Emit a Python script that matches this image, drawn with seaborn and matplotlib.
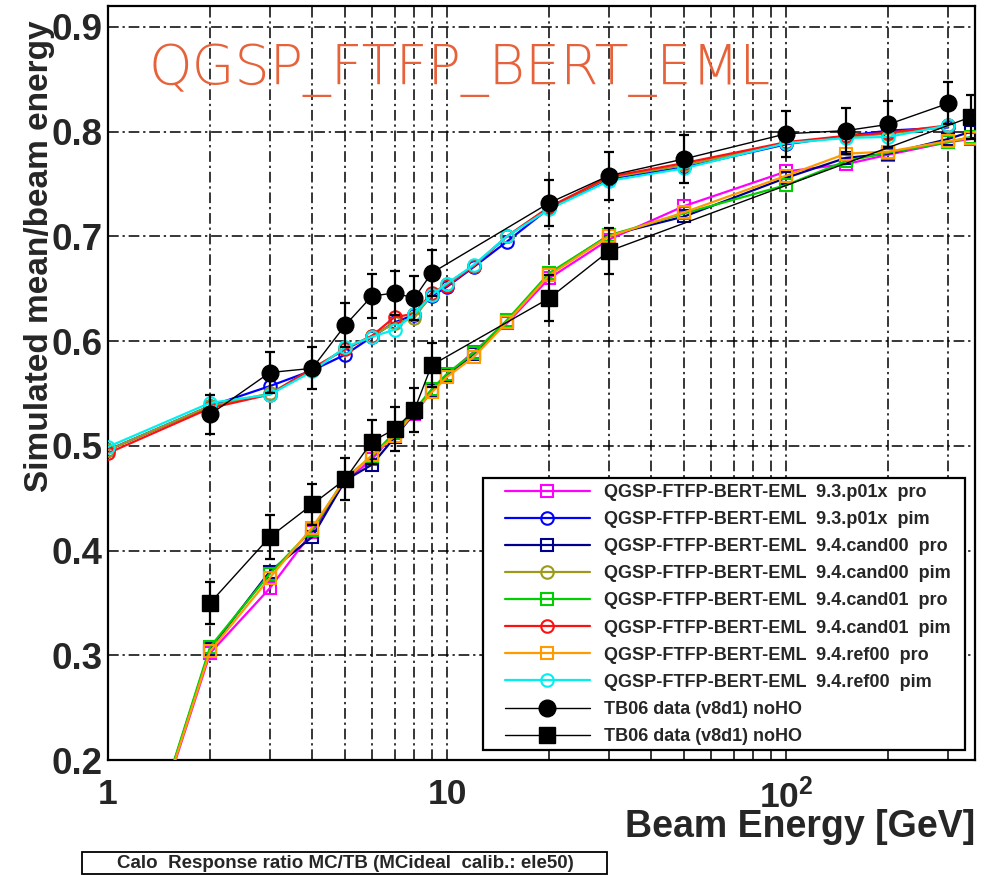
import matplotlib
matplotlib.use("Agg")
import matplotlib.pyplot as plt
import seaborn as sns
import pandas as pd
from matplotlib.patches import Rectangle
from matplotlib.ticker import FixedLocator, FixedFormatter, MultipleLocator, NullFormatter

# Beam energies [GeV]
energies_pim = [1, 2, 3, 4, 5, 6, 7, 8, 9, 10, 12, 15, 20, 30, 50, 100, 150, 200, 300]
energies_pro = [1, 2, 3, 4, 5, 6, 7, 8, 9, 10, 12, 15, 20, 30, 50, 100, 150, 200, 300, 350]
energies_tb_pim = [2, 3, 4, 5, 6, 7, 8, 9, 20, 30, 50, 100, 150, 200, 300]
energies_tb_pro = [2, 3, 4, 5, 6, 7, 8, 9, 20, 30, 350]

# Simulated mean / beam energy
v93_pro = [0.0, 0.302, 0.364, 0.418, 0.466, 0.487, 0.512, 0.530, 0.553, 0.568, 0.590, 0.617,
           0.660, 0.697, 0.729, 0.762, 0.769, 0.778, 0.790, 0.793]
v93_pim = [0.496, 0.538, 0.557, 0.572, 0.587, 0.604, 0.618, 0.625, 0.643, 0.652, 0.671, 0.695,
           0.727, 0.755, 0.766, 0.788, 0.796, 0.801, 0.804]
cand00_pro = [0.0, 0.306, 0.380, 0.413, 0.467, 0.482, 0.508, 0.531, 0.552, 0.567, 0.588, 0.619,
              0.664, 0.701, 0.719, 0.756, 0.775, 0.779, 0.793, 0.800]
cand00_pim = [0.496, 0.538, 0.550, 0.573, 0.593, 0.605, 0.617, 0.622, 0.645, 0.655, 0.672, 0.700,
              0.728, 0.756, 0.768, 0.789, 0.795, 0.798, 0.805]
cand01_pro = [0.0, 0.308, 0.378, 0.420, 0.469, 0.490, 0.513, 0.534, 0.554, 0.569, 0.589, 0.620,
              0.665, 0.701, 0.722, 0.749, 0.772, 0.780, 0.790, 0.795]
cand01_pim = [0.493, 0.536, 0.549, 0.574, 0.592, 0.605, 0.623, 0.626, 0.646, 0.653, 0.672, 0.700,
              0.728, 0.757, 0.770, 0.790, 0.796, 0.799, 0.806]
ref00_pro = [0.0, 0.304, 0.374, 0.422, 0.468, 0.491, 0.509, 0.532, 0.551, 0.566, 0.585, 0.618,
             0.663, 0.700, 0.723, 0.758, 0.779, 0.781, 0.791, 0.794]
ref00_pim = [0.499, 0.541, 0.549, 0.571, 0.594, 0.604, 0.611, 0.626, 0.644, 0.655, 0.673, 0.700,
             0.726, 0.753, 0.765, 0.789, 0.794, 0.795, 0.806]

# Test-beam 2006 measurements
tb_pim = [0.530, 0.570, 0.574, 0.615, 0.643, 0.646, 0.641, 0.665, 0.732, 0.758, 0.774, 0.798,
          0.801, 0.807, 0.827]
tb_pim_err = [0.019, 0.020, 0.020, 0.021, 0.021, 0.021, 0.021, 0.022, 0.022, 0.023, 0.023, 0.022,
              0.022, 0.022, 0.020]
tb_pro = [0.350, 0.413, 0.444, 0.468, 0.504, 0.516, 0.534, 0.577, 0.641, 0.686, 0.814]
tb_pro_err = [0.020, 0.021, 0.020, 0.020, 0.021, 0.021, 0.021, 0.021, 0.022, 0.022, 0.021]

mc_series = [
    ("QGSP-FTFP-BERT-EML  9.3.p01x  pro", energies_pro, v93_pro, "#ff00ff", "s"),
    ("QGSP-FTFP-BERT-EML  9.3.p01x  pim", energies_pim, v93_pim, "#0000ff", "o"),
    ("QGSP-FTFP-BERT-EML  9.4.cand00  pro", energies_pro, cand00_pro, "#00008c", "s"),
    ("QGSP-FTFP-BERT-EML  9.4.cand00  pim", energies_pim, cand00_pim, "#9c9a1a", "o"),
    ("QGSP-FTFP-BERT-EML  9.4.cand01  pro", energies_pro, cand01_pro, "#00d000", "s"),
    ("QGSP-FTFP-BERT-EML  9.4.cand01  pim", energies_pim, cand01_pim, "#ff1010", "o"),
    ("QGSP-FTFP-BERT-EML  9.4.ref00  pro", energies_pro, ref00_pro, "#ff9a00", "s"),
    ("QGSP-FTFP-BERT-EML  9.4.ref00  pim", energies_pim, ref00_pim, "#00f0f0", "o"),
]

sns.set_theme(style="white")
plt.rcParams["font.family"] = ["Liberation Sans", "DejaVu Sans"]
plt.rcParams["mathtext.fontset"] = "custom"
plt.rcParams["mathtext.rm"] = "Liberation Sans:bold"
plt.rcParams["mathtext.bf"] = "Liberation Sans:bold"

W, H = 988, 875
fig = plt.figure(figsize=(W / 100, H / 100), dpi=100)
ax_l, ax_r, ax_t, ax_b = 108, 975, 6, 760
ax = fig.add_axes([ax_l / W, 1 - ax_b / H, (ax_r - ax_l) / W, (ax_b - ax_t) / H])
ax.set_xscale("log")


def to_axes(px, py):
    """Pixel position in the figure -> axes fraction."""
    return (px - ax_l) / (ax_r - ax_l), (ax_b - py) / (ax_b - ax_t)


grid_style = dict(color="black", linewidth=1.1, linestyle=(0, (7, 2.5, 1.5, 2.5)))

for label, e, v, col, mk in mc_series:
    df = pd.DataFrame({"E": e, "r": v})
    sns.lineplot(data=df, x="E", y="r", ax=ax, color=col, linewidth=1.6, marker=mk,
                 markersize=9, markerfacecolor="none", markeredgecolor=col,
                 markeredgewidth=1.5, label=label, sort=False, estimator=None, zorder=3)

for e, v, err, mk, ms in [(energies_tb_pim, tb_pim, tb_pim_err, "o", 12),
                          (energies_tb_pro, tb_pro, tb_pro_err, "s", 12)]:
    df = pd.DataFrame({"E": e, "r": v})
    sns.lineplot(data=df, x="E", y="r", ax=ax, color="black", linewidth=1.0, marker=mk,
                 markersize=ms, markerfacecolor="black", markeredgecolor="black",
                 markeredgewidth=1.0, label="TB06 data (v8d1) noHO", sort=False,
                 estimator=None, zorder=4)
    ax.errorbar(e, v, yerr=err, fmt="none", ecolor="black", elinewidth=1.6, capsize=3.5,
                capthick=1.6, zorder=4)

ax.set_xlim(1, 360)
ax.set_ylim(0.2, 0.92)

ax.xaxis.set_major_locator(FixedLocator([1, 10, 100]))
ax.xaxis.set_major_formatter(FixedFormatter(["1", "10", r"$\mathbf{10^{2}}$"]))
minor_x = [2, 3, 4, 5, 6, 7, 8, 9, 20, 30, 40, 50, 60, 70, 80, 90, 200, 300]
ax.xaxis.set_minor_locator(FixedLocator(minor_x))
ax.xaxis.set_minor_formatter(NullFormatter())
ax.yaxis.set_major_locator(FixedLocator([0.2, 0.3, 0.4, 0.5, 0.6, 0.7, 0.8, 0.9]))
ax.yaxis.set_major_formatter(FixedFormatter(["0.2", "0.3", "0.4", "0.5", "0.6", "0.7", "0.8", "0.9"]))
ax.yaxis.set_minor_locator(MultipleLocator(0.02))

ax.grid(True, which="both", axis="x", **grid_style)
ax.grid(True, which="major", axis="y", **grid_style)
ax.set_axisbelow(True)

ax.tick_params(which="major", direction="in", length=22, width=1.5, color="black")
ax.tick_params(which="minor", direction="in", length=12, width=1.3, color="black")
ax.tick_params(axis="x", which="major", pad=13, labelsize=25.5)
ax.tick_params(axis="y", which="major", pad=4, labelsize=26.5)
for lab in ax.get_xticklabels() + ax.get_yticklabels():
    lab.set_fontweight("bold")

for sp in ax.spines.values():
    sp.set_color("black")
    sp.set_linewidth(1.6)

ax.set_xlabel("")
ax.set_ylabel("")
fig.text(975 / W, 1 - 837 / H, "Beam Energy [GeV]", ha="right", va="baseline",
         fontsize=27, fontweight="bold")
fig.text(40 / W, 1 - 20 / H, "Simulated mean/beam energy", rotation=90, ha="center",
         va="top", fontsize=24, fontweight="bold")

fig.text(148 / W, 1 - 84 / H, "QGSP_FTFP_BERT_EML", ha="left", va="baseline",
         fontsize=40, color="#e6623a", family=["DejaVu Sans"], fontweight="light")

# Legend frame drawn separately so the entries can sit with ROOT-like padding
fx0, fy0 = to_axes(483, 750)
fx1, fy1 = to_axes(965, 478)
ax.add_patch(Rectangle((fx0, fy0), fx1 - fx0, fy1 - fy0, transform=ax.transAxes,
                       facecolor="white", edgecolor="black", linewidth=1.6, zorder=4.6,
                       clip_on=False))
lx, ly = to_axes(505, 484)
leg = ax.legend(loc="upper left", bbox_to_anchor=(lx, ly), fontsize=13, handlelength=4.7,
                handletextpad=0.8, labelspacing=0.56, borderpad=0, borderaxespad=0,
                frameon=False)
leg.set_zorder(5)
for t in leg.get_texts():
    t.set_fontweight("bold")

fig.patches.append(Rectangle((82 / W, 1 - 874 / H), (607 - 82) / W, 22 / H,
                             transform=fig.transFigure, facecolor="white", edgecolor="black",
                             linewidth=1.3))
fig.text(345 / W, 1 - 863 / H, "Calo  Response ratio MC/TB (MCideal  calib.: ele50)",
         ha="center", va="center", fontsize=13.5, fontweight="bold")

fig.savefig("out.png", dpi=100)
